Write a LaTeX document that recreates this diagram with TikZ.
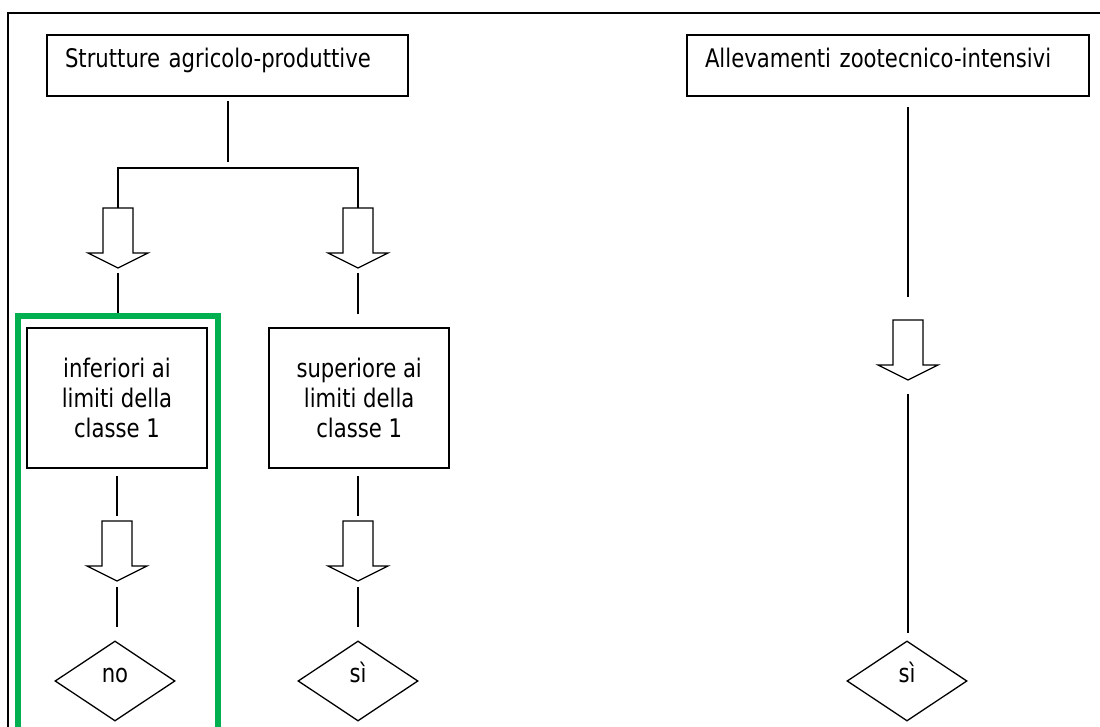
\documentclass[tikz,border=0pt]{standalone}
\usepackage{fontspec}
\setmainfont[FakeStretch=0.92]{DejaVu Sans Condensed}
\usepackage{xcolor}
\usepackage{tikz}
\usetikzlibrary{positioning,shapes.geometric}
\definecolor{selgreen}{HTML}{00B050}
\tikzstyle{title}=[draw=black,line width=1.7pt,inner xsep=18pt,inner ysep=0pt,text height=33pt,text depth=28pt,align=left,font=\fontsize{25.6}{30}\selectfont]
\tikzstyle{limit}=[draw=black,line width=1.7pt,minimum width=180pt,minimum height=140pt,inner sep=0pt,align=center,font=\fontsize{25.6}{30}\selectfont]
\tikzstyle{answer}=[diamond,draw=black,line width=1.3pt,minimum width=120pt,minimum height=80pt,aspect=1.5,inner sep=0pt,text height=14pt,text depth=12pt,font=\fontsize{25.6}{30}\selectfont]
\tikzstyle{link}=[draw=black,line width=2pt]
\tikzset{blockarrow/.pic={
	\draw[line width=1.3pt,fill=white] (-15,0) -- (15,0) -- (15,45) -- (30,45) -- (0,60) -- (-30,45) -- (-15,45) -- cycle;
	\coordinate (-top) at (0,0);
	\coordinate (-tip) at (0,60);
}}

\begin{document}
\begin{tikzpicture}[x=1pt,y=-1pt]
		\useasboundingbox (0,0) rectangle (1100,727);
		\draw[line width=2.5pt] (8,740) |- (1110,13);
		\node[title,text width=325pt] (agri) at (227.5,65.5) {Strutture agricolo-produttive};
		\node[title,text width=366pt] (allev) at (888,65.5) {Allevamenti zootecnico-intensivi};
		\coordinate (fork) at (228,168);
		\pic (a1) at (118,208) {blockarrow};
		\pic (a2) at (358,208) {blockarrow};
		\node[limit] (inf) at (117,398) {inferiori ai\\limiti della\\classe 1};
		\node[limit] (sup) [right=60.5pt of inf] {superiore ai\\limiti della\\classe 1};
		\pic (b1) at (117,521) {blockarrow};
		\pic (b2) at (358,521) {blockarrow};
		\pic (c1) at (908,320) {blockarrow};
		\node[answer] (no) at (115,681) {no};
		\node[answer] (si1) at (358,681) {sì};
		\node[answer] (si2) at (907,681) {sì};
		\draw[link,shorten <=4pt,shorten >=6pt] (agri.south -| fork) -- (fork);
		\draw[link] (a1-top) |- (fork) -| (a2-top);
		\draw[link,shorten <=5pt,shorten >=13pt] (a1-tip) -- (a1-tip |- inf.north);
		\draw[link,shorten <=5pt,shorten >=13pt] (a2-tip) -- (a2-tip |- sup.north);
		\draw[link,shorten <=7pt,shorten >=5pt] (inf.south -| b1-top) -- (b1-top);
		\draw[link,shorten <=7pt,shorten >=5pt] (sup.south -| b2-top) -- (b2-top);
		\draw[link,shorten <=6pt,shorten >=13pt] (b1-tip) -- (b1-tip |- no.north);
		\draw[link,shorten <=6pt,shorten >=13pt] (b2-tip) -- (b2-tip |- si1.north);
		\draw[link,shorten <=10pt,shorten >=23pt] (allev.south -| c1-top) -- (c1-top);
		\draw[link,shorten <=14pt,shorten >=7pt] (c1-tip) -- (c1-tip |- si2.north);
		\draw[selgreen,line width=6pt] (18,740) |- (218,316) -- (218,740);
\end{tikzpicture}
\end{document}
